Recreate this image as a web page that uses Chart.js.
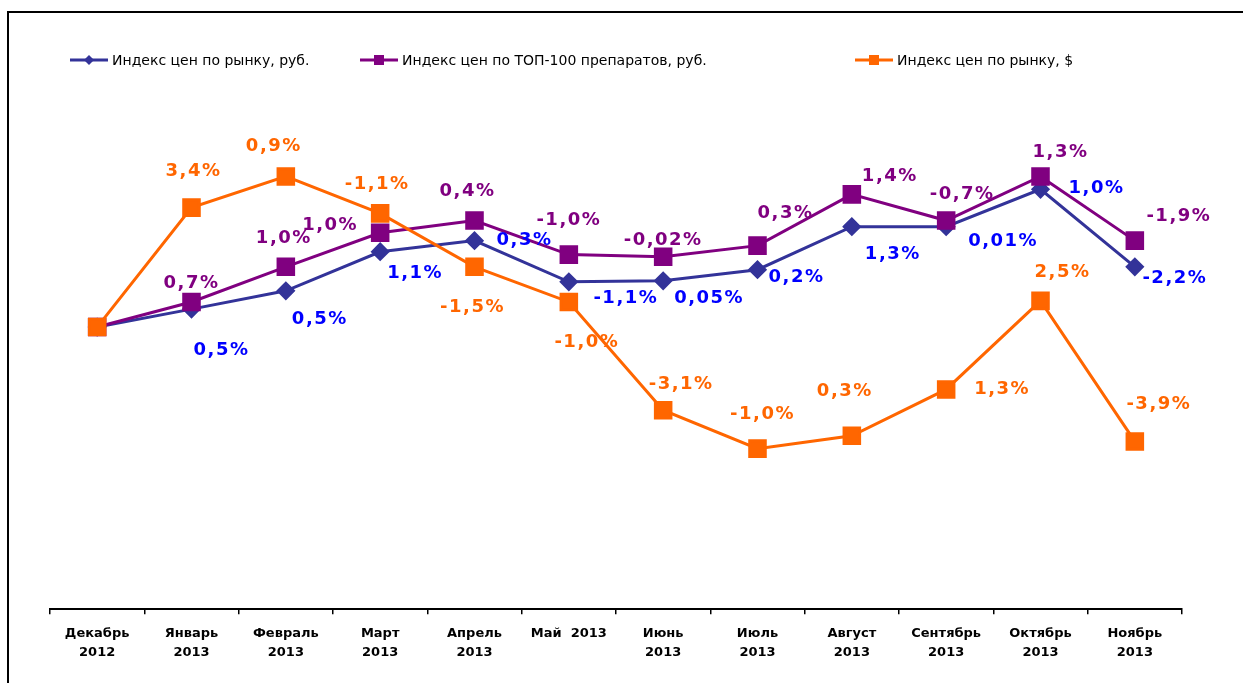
<!DOCTYPE html>
<html>
<head>
<meta charset="utf-8">
<script src="https://cdn.jsdelivr.net/npm/chart.js@4.4.0/dist/chart.umd.min.js"></script>
<style>
    html, body { margin: 0; padding: 0; background: #fff; }
    #wrap { width: 1243px; height: 683px; }
</style>
</head>
<body>
<div id="wrap"><canvas id="priceChart" width="1243" height="683"></canvas></div>
<script>
// месяцы
const months = [
    ['Декабрь', '2012'], ['Январь', '2013'], ['Февраль', '2013'], ['Март', '2013'],
    ['Апрель', '2013'], 'Май  2013', ['Июнь', '2013'], ['Июль', '2013'],
    ['Август', '2013'], ['Сентябрь', '2013'], ['Октябрь', '2013'], ['Ноябрь', '2013']
];

// индекс (декабрь 2012 = 100)
const rubMarket = [100, 100.50, 101.01, 102.10, 102.41, 101.26, 101.29, 101.60, 102.80, 102.80, 103.84, 101.68];
const top100Rub = [100, 100.70, 101.68, 102.63, 102.97, 102.02, 101.96, 102.27, 103.70, 102.97, 104.20, 102.41];
const usdMarket = [100, 103.33, 104.20, 103.17, 101.68, 100.70, 97.68, 96.61, 96.97, 98.26, 100.73, 96.81];

// подписи изменений к предыдущему месяцу
const rubMarketLabels = [null, '0,5%', '0,5%', '1,1%', '0,3%', '-1,1%', '0,05%', '0,2%', '1,3%', '0,01%', '1,0%', '-2,2%'];
const top100RubLabels = [null, '0,7%', '1,0%', '1,0%', '0,4%', '-1,0%', '-0,02%', '0,3%', '1,4%', '-0,7%', '1,3%', '-1,9%'];
const usdMarketLabels = [null, '3,4%', '0,9%', '-1,1%', '-1,5%', '-1,0%', '-3,1%', '-1,0%', '0,3%', '1,3%', '2,5%', '-3,9%'];

const seriesNames = ['Индекс цен по рынку, руб.', 'Индекс цен по ТОП-100 препаратов, руб.', 'Индекс цен по рынку, $'];

// смещения подписей относительно точек (px)
const labelOffsets = [
    [null, [30, 41], [34, 28], [35, 22], [50, 0], [57, 16], [46, 18], [39, 8], [41, 28], [57, 15], [56, -1], [40, 12]],
    [null, [0, -19], [-2, -28], [-50, -7], [-7, -29], [0, -34], [0, -16], [28, -32], [38, -18], [16, -26], [20, -24], [44, -24]],
    [null, [2, -36], [-12, -30], [-3, -29], [-2, 41], [18, 40], [18, -26], [5, -34], [-7, -44], [56, 0], [22, -29], [24, -37]]
];
const labelColors = ['#0000FF', '#800080', '#FF6600'];
const lineColors = ['#333399', '#800080', '#FF6600'];
const legendX = [70, 360, 855];

const frameAndLegend = {
    id: 'frameAndLegend',
    afterDraw(chart) {
        const ctx = chart.ctx;
        ctx.save();
        ctx.strokeStyle = '#000';
        ctx.lineWidth = 2;
        ctx.beginPath();
        ctx.moveTo(8, 683);
        ctx.lineTo(8, 12);
        ctx.lineTo(1243, 12);
        ctx.stroke();

        const y = 60;
        chart.data.datasets.forEach((ds, i) => {
            const x = legendX[i];
            ctx.strokeStyle = ds.borderColor;
            ctx.lineWidth = 3;
            ctx.beginPath();
            ctx.moveTo(x, y);
            ctx.lineTo(x + 38, y);
            ctx.stroke();
            ctx.fillStyle = ds.borderColor;
            ctx.beginPath();
            if (ds.pointStyle === 'rectRot') {
                ctx.moveTo(x + 19, y - 5);
                ctx.lineTo(x + 24, y);
                ctx.lineTo(x + 19, y + 5);
                ctx.lineTo(x + 14, y);
                ctx.closePath();
            } else {
                ctx.rect(x + 14, y - 5, 10, 10);
            }
            ctx.fill();
            ctx.fillStyle = '#000';
            ctx.font = '14px "DejaVu Sans"';
            ctx.textBaseline = 'middle';
            ctx.textAlign = 'left';
            ctx.fillText(ds.label, x + 42, y + 1);
        });
        ctx.restore();
    }
};

const pointLabels = {
    id: 'pointLabels',
    afterDatasetsDraw(chart) {
        const ctx = chart.ctx;
        const allLabels = [rubMarketLabels, top100RubLabels, usdMarketLabels];
        ctx.save();
        ctx.font = 'bold 18px "DejaVu Sans"';
        ctx.letterSpacing = '1.5px';
        ctx.textAlign = 'center';
        ctx.textBaseline = 'middle';
        allLabels.forEach((labels, i) => {
            const meta = chart.getDatasetMeta(i);
            ctx.fillStyle = labelColors[i];
            labels.forEach((text, j) => {
                if (!text) return;
                const pt = meta.data[j];
                const off = labelOffsets[i][j];
                ctx.fillText(text, pt.x + off[0], pt.y + off[1]);
            });
        });
        ctx.restore();
    }
};

new Chart(document.getElementById('priceChart').getContext('2d'), {
    type: 'line',
    data: {
        labels: months,
        datasets: [{
            label: seriesNames[0],
            data: rubMarket,
            borderColor: lineColors[0],
            backgroundColor: lineColors[0],
            borderWidth: 3,
            pointStyle: 'rectRot',
            pointRadius: 7.5,
            order: 2
        }, {
            label: seriesNames[1],
            data: top100Rub,
            borderColor: lineColors[1],
            backgroundColor: lineColors[1],
            borderWidth: 3,
            pointStyle: 'rect',
            pointRadius: 11,
            order: 1
        }, {
            label: seriesNames[2],
            data: usdMarket,
            borderColor: lineColors[2],
            backgroundColor: lineColors[2],
            borderWidth: 3,
            pointStyle: 'rect',
            pointRadius: 11,
            order: 0
        }]
    },
    options: {
        responsive: false,
        animation: false,
        layout: {
            padding: { top: 90, left: 50, right: 61, bottom: 11 }
        },
        elements: {
            line: { tension: 0 },
            point: { borderWidth: 0, hoverRadius: 11 }
        },
        plugins: {
            legend: { display: false },
            tooltip: { enabled: false }
        },
        scales: {
            x: {
                offset: true,
                grid: {
                    offset: true,
                    drawOnChartArea: false,
                    tickLength: 5,
                    color: '#000',
                    lineWidth: 1.5
                },
                border: { color: '#000', width: 2 },
                ticks: {
                    color: '#000',
                    font: { family: 'DejaVu Sans', size: 13, weight: 'bold', lineHeight: 1.45 },
                    padding: 10,
                    maxRotation: 0,
                    autoSkip: false
                }
            },
            y: {
                display: false,
                min: 92.13,
                max: 106.61
            }
        }
    },
    plugins: [frameAndLegend, pointLabels]
});
</script>
</body>
</html>
